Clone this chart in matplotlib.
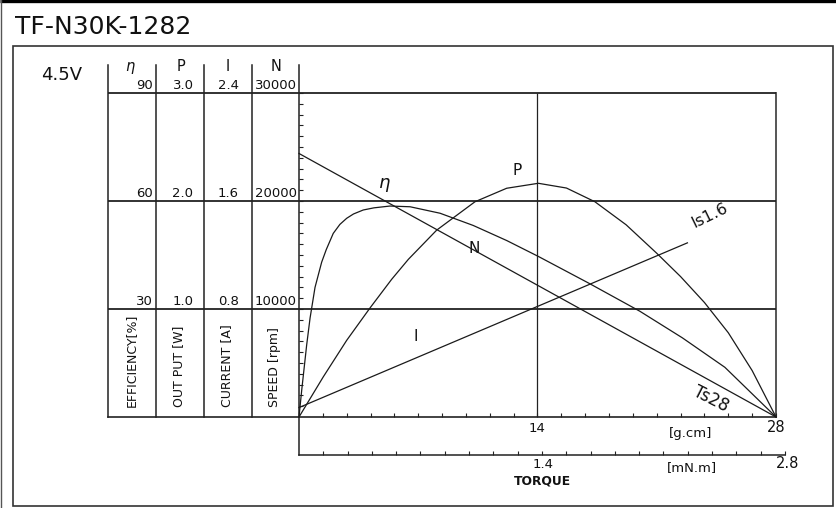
import matplotlib
matplotlib.use("Agg")
import matplotlib.pyplot as plt
import matplotlib.transforms as mtransforms
from matplotlib.patches import Rectangle
import numpy as np

# ---------------- data ----------------
model = "TF-N30K-1282"
voltage = "4.5V"

eff_ticks = [30, 60, 90]
power_ticks = [1.0, 2.0, 3.0]
current_ticks = [0.8, 1.6, 2.4]
speed_ticks = [10000, 20000, 30000]

torque_ticks_gcm = np.arange(1.4, 28.01, 1.4)
torque_ticks_mnm = np.arange(0.14, 2.801, 0.14)
speed_minor_ticks = np.arange(1000, 30001, 1000)

# speed N [rpm] vs torque [g.cm]
speed_torque = [0, 28]
speed_rpm = [24400, 0]

# current I [A]
current_torque = [0, 22.8]
current_a = [0.07, 1.29]

# efficiency eta [%]
eff_torque = [0, 0.16, 0.45, 0.65, 0.94, 1.33, 1.6, 2.01, 2.4, 2.80, 3.2, 3.77,
              4.4, 5.34, 6.52, 8.28, 10.23, 12.20, 14.05, 17.0, 20.0, 22.5, 25.0, 28]
eff_pct = [0, 7.5, 20.0, 27.5, 36.0, 43.0, 46.5, 51.0, 53.5, 55.2, 56.4, 57.5,
           58.1, 58.6, 58.4, 56.6, 53.2, 49.0, 44.6, 37.2, 29.4, 22.0, 13.8, 0]

# output power P [W]
power_torque = [0, 1.43, 2.8, 4.17, 5.44, 6.42, 8.08, 10.33, 12.19, 14.05,
                15.7, 17.37, 19.2, 21.0, 22.4, 23.8, 25.2, 26.6, 28]
power_w = [0, 0.373, 0.71, 1.01, 1.275, 1.46, 1.73, 1.993, 2.118, 2.164,
           2.12, 1.993, 1.78, 1.516, 1.30, 1.06, 0.78, 0.43, 0]

# ---------------- figure ----------------
W, H = 837, 508
fig = plt.figure(figsize=(W / 100, H / 100), dpi=100)
plt.rcParams['font.family'] = ['DejaVu Sans']

# overlay in pixel coordinates for frame / table
ov = fig.add_axes([0, 0, 1, 1])
ov.set_xlim(0, W)
ov.set_ylim(H, 0)
ov.axis('off')

line_c = '#222222'
ov.plot([0, W], [1.2, 1.2], color='black', lw=2.4, solid_capstyle='butt')
ov.plot([0.6, 0.6], [0, H], color='#555555', lw=1.0)
ov.add_patch(Rectangle((13, 46), 820, 460, fill=False, lw=1.2, edgecolor='#333333'))

# table column lines
for xc in [108, 156, 204, 252]:
    ov.plot([xc, xc], [65, 417], color=line_c, lw=1.1)
ov.plot([299, 299], [65, 455], color=line_c, lw=1.1)
ov.plot([108, 776], [417, 417], color=line_c, lw=1.2)
ov.plot([776, 776], [93, 417], color='#555555', lw=1.4)

# main data axes
x0, x1, y0, y1 = 299, 776, 417, 93
rect = [x0 / W, 1 - y0 / H, (x1 - x0) / W, (y0 - y1) / H]
ax = fig.add_axes(rect)
ax.set_xlim(0, 28)
ax.set_ylim(0, 30000)
ax.patch.set_visible(False)
for s in ax.spines.values():
    s.set_visible(False)
ax.set_xticks(torque_ticks_gcm)
ax.set_yticks(speed_minor_ticks)
ax.tick_params(axis='x', direction='in', length=2.8, width=0.8, color=line_c,
               labelbottom=False)
ax.tick_params(axis='y', direction='in', length=3.2, width=0.8, color=line_c,
               labelleft=False)

# horizontal grid lines extending over the table
ax.hlines(speed_ticks, -(x0 - 108) / (x1 - x0), 1, transform=ax.get_yaxis_transform(),
          colors=line_c, lw=1.3, clip_on=False)
ax.vlines(14, 0, 30000, colors=line_c, lw=0.9)

# twin scales
def twin(lim):
    a = fig.add_axes(rect, sharex=ax)
    a.set_ylim(*lim)
    a.axis('off')
    a.patch.set_visible(False)
    return a

ax_e = twin((0, 90))
ax_p = twin((0, 3.0))
ax_i = twin((0, 2.4))

curve_kw = dict(color='#1a1a1a', lw=0.9, clip_on=False, solid_joinstyle='round')
ax.plot(speed_torque, speed_rpm, **curve_kw)
ax_i.plot(current_torque, current_a, **curve_kw)
ax_e.plot(eff_torque, eff_pct, **curve_kw)
ax_p.plot(power_torque, power_w, **curve_kw)

# lower torque axis (mN.m)
ax2 = fig.add_axes([299 / W, 1 - 455 / H, 486 / W, 0.0001])
ax2.set_xlim(0, 2.8)
ax2.patch.set_visible(False)
for k in ['top', 'left', 'right']:
    ax2.spines[k].set_visible(False)
ax2.spines['bottom'].set_color(line_c)
ax2.spines['bottom'].set_linewidth(1.1)
ax2.set_yticks([])
ax2.set_xticks(torque_ticks_mnm)
ax2.tick_params(axis='x', direction='in', length=2.8, width=0.8, color=line_c,
                labelbottom=False)

# ---------------- texts ----------------
tc = '#111111'
ov.text(15, 34, model, fontsize=18, color=tc, ha='left', va='baseline')
ov.text(62, 80, voltage, fontsize=13, color=tc, ha='center', va='baseline')

for xh, sym in [(130, r'$\eta$'), (181, 'P'), (228, 'I'), (276, 'N')]:
    ov.text(xh, 71, sym, fontsize=10.5, color=tc, ha='center', va='baseline')

blend = mtransforms.blended_transform_factory(ov.transData, ax.transData)
for s, e, p, c in zip(speed_ticks, eff_ticks, power_ticks, current_ticks):
    for xp, lab, ha in [(152.5, f'{e}', 'right'), (183, f'{p:.1f}', 'center'),
                        (228.5, f'{c:.1f}', 'center'), (276, f'{s}', 'center')]:
        ov.annotate(lab, xy=(xp, s), xycoords=blend, xytext=(0, 2.6),
                    textcoords='offset points', ha=ha, va='baseline',
                    fontsize=9.5, color=tc)

for xr, lab in [(131, 'EFFICIENCY[%]'), (179, 'OUT PUT [W]'),
                (227, 'CURRENT [A]'), (275, 'SPEED [rpm]')]:
    ov.text(xr, 407, lab, rotation=90, fontsize=9, color=tc, ha='center', va='bottom')

# curve labels
ov.text(384, 188, r'$\eta$', fontsize=13, color=tc, ha='center', va='baseline')
ov.text(517, 175, 'P', fontsize=11, color=tc, ha='center', va='baseline')
ov.text(474, 253, 'N', fontsize=11, color=tc, ha='center', va='baseline')
ov.text(416, 341, 'I', fontsize=11, color=tc, ha='center', va='baseline')
ov.text(710, 216, 'Is1.6', fontsize=11.5, color=tc, ha='center', va='center', rotation=26)
ov.text(711, 399, 'Ts28', fontsize=12, color=tc, ha='center', va='center', rotation=-27)

# axis labels
ov.text(537.5, 428.5, '14', fontsize=9.5, color=tc, ha='center', va='center')
ov.text(776, 427.5, '28', fontsize=10.5, color=tc, ha='center', va='center')
ov.text(690.5, 433, '[g.cm]', fontsize=9.5, color=tc, ha='center', va='center')
ov.text(543.5, 465, '1.4', fontsize=9.5, color=tc, ha='center', va='center')
ov.text(788, 464, '2.8', fontsize=10.5, color=tc, ha='center', va='center')
ov.text(691.5, 468, '[mN.m]', fontsize=9.5, color=tc, ha='center', va='center')
ov.text(542.5, 480.5, 'TORQUE', fontsize=8.8, fontweight='bold', color=tc,
        ha='center', va='center')

fig.savefig('out.png', dpi=100)
